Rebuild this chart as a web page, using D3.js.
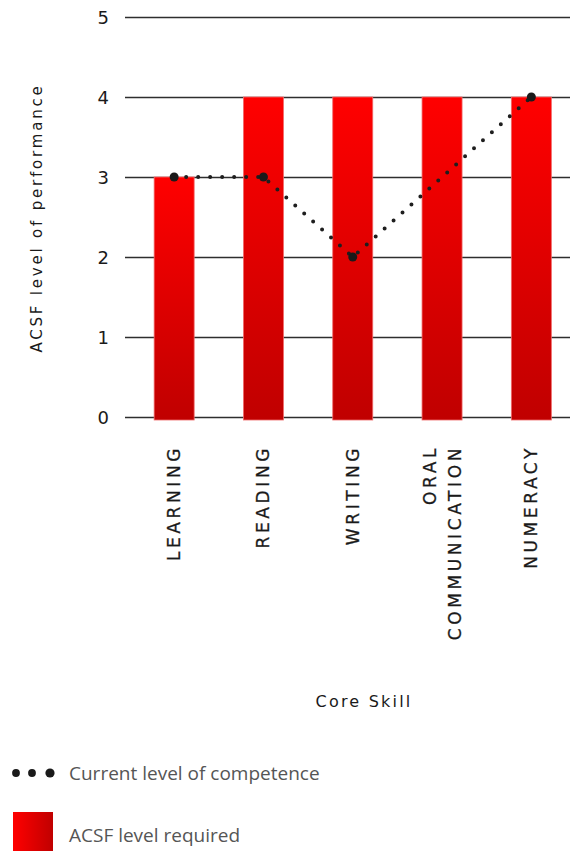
<!DOCTYPE html>
<html>
<head>
<meta charset="utf-8">
<script src="https://cdn.jsdelivr.net/npm/d3@7"></script>
<style>
  html, body { margin: 0; padding: 0; background: #fff; }
  svg { display: block; }
</style>
</head>
<body>
<div id="chart"></div>
<script>
// Core skills and their ACSF levels
const skills = ["LEARNING", "READING", "WRITING", "ORAL COMMUNICATION", "NUMERACY"];
const skillLines = [["LEARNING"], ["READING"], ["WRITING"], ["ORAL", "COMMUNICATION"], ["NUMERACY"]];
const requiredLevel = [3, 4, 4, 4, 4];
const currentLevel = [3, 3, 2, 3, 4];
const yTicks = [0, 1, 2, 3, 4, 5];

const W = 570, H = 851;
const techFont = "DejaVu Sans, Verdana, sans-serif";

const svg = d3.select("#chart").append("svg")
  .attr("width", W).attr("height", H);

const defs = svg.append("defs");
const barGrad = defs.append("linearGradient")
  .attr("id", "barGrad").attr("x1", 0).attr("y1", 0).attr("x2", 0).attr("y2", 1);
barGrad.append("stop").attr("offset", "0%").attr("stop-color", "#ff0000");
barGrad.append("stop").attr("offset", "100%").attr("stop-color", "#c00000");

const keyGrad = defs.append("linearGradient")
  .attr("id", "keyGrad").attr("x1", 0).attr("y1", 0).attr("x2", 1).attr("y2", 0);
keyGrad.append("stop").attr("offset", "0%").attr("stop-color", "#ff0000");
keyGrad.append("stop").attr("offset", "100%").attr("stop-color", "#c00000");

const x = d3.scaleBand()
  .domain(skills)
  .range([129.5, 576])
  .paddingInner(0.552)
  .paddingOuter(0.276);

const y = d3.scaleLinear().domain([0, 5]).range([417, 17]);

// Horizontal gridlines with their level labels
const yAxis = d3.axisLeft(y)
  .tickValues(yTicks)
  .tickFormat(d3.format("d"))
  .tickSize(-(W - 125))
  .tickPadding(16);

const gy = svg.append("g")
  .attr("transform", "translate(125,0)")
  .call(yAxis);
gy.select(".domain").remove();
gy.selectAll(".tick line")
  .attr("stroke", "#2e2e2e")
  .attr("stroke-width", 1.6);
gy.selectAll(".tick text")
  .attr("fill", "#1a1a1a")
  .style("font-family", techFont)
  .style("font-size", "18px")
  .attr("dy", "0.36em");

// Required-level bars
svg.append("g").selectAll("rect")
  .data(skills)
  .join("rect")
  .attr("x", d => x(d))
  .attr("y", (d, i) => y(requiredLevel[i]))
  .attr("width", x.bandwidth())
  .attr("height", (d, i) => y(0) - y(requiredLevel[i]) + 3)
  .attr("fill", "url(#barGrad)")
  .attr("stroke", "#f06a6a")
  .attr("stroke-width", 0.8);

// Current competence as a dotted line
const pts = skills.map((s, i) => [x(s) + x.bandwidth() / 2, y(currentLevel[i])]);
svg.append("path")
  .datum(pts)
  .attr("d", d3.line())
  .attr("fill", "none")
  .attr("stroke", "#1e1e1e")
  .attr("stroke-width", 4)
  .attr("stroke-linecap", "round")
  .attr("stroke-dasharray", "0 12");

svg.append("g").selectAll("circle")
  .data(pts.filter((p, i) => i !== 3))
  .join("circle")
  .attr("cx", d => d[0])
  .attr("cy", d => d[1])
  .attr("r", 4.5)
  .attr("fill", "#1a1a1a");

// Rotated skill names under each bar
const xl = svg.append("g");
skills.forEach((s, i) => {
  const lines = skillLines[i];
  const cx = x(s) + x.bandwidth() / 2;
  const lh = 25;
  lines.forEach((t, j) => {
    const off = (j - (lines.length - 1) / 2) * lh;
    xl.append("text")
      .attr("transform", `translate(${cx + off + 6},445) rotate(-90)`)
      .attr("text-anchor", "end")
      .attr("fill", "#1a1a1a")
      .attr("stroke", "#1a1a1a")
      .attr("stroke-width", 0.3)
      .style("font-family", techFont)
      .style("font-size", "17px")
      .style("letter-spacing", "3.6px")
      .text(t);
  });
});

// Axis titles
svg.append("text")
  .attr("transform", "translate(42,218) rotate(-90)")
  .attr("text-anchor", "middle")
  .attr("fill", "#1a1a1a")
  .style("font-family", techFont)
  .style("font-size", "15px")
  .style("letter-spacing", "2.8px")
  .text("ACSF level of performance");

svg.append("text")
  .attr("x", 364).attr("y", 707)
  .attr("text-anchor", "middle")
  .attr("fill", "#1a1a1a")
  .style("font-family", techFont)
  .style("font-size", "16px")
  .style("letter-spacing", "2.2px")
  .text("Core Skill");

// Legend
const legFont = "'Open Sans', 'Noto Sans', sans-serif";
const lg = svg.append("g");
[16, 32, 50].forEach((cx, i) => {
  lg.append("circle").attr("cx", cx).attr("cy", 773).attr("r", i === 2 ? 4.6 : 3.9).attr("fill", "#1a1a1a");
});
lg.append("text")
  .attr("x", 69).attr("y", 780)
  .attr("fill", "#555")
  .style("font-family", legFont)
  .style("font-size", "19px")
  .text("Current level of competence");

lg.append("rect")
  .attr("x", 13).attr("y", 812).attr("width", 40).attr("height", 42)
  .attr("fill", "url(#keyGrad)");
lg.append("text")
  .attr("x", 69).attr("y", 842)
  .attr("fill", "#555")
  .style("font-family", legFont)
  .style("font-size", "19px")
  .text("ACSF level required");
</script>
</body>
</html>
